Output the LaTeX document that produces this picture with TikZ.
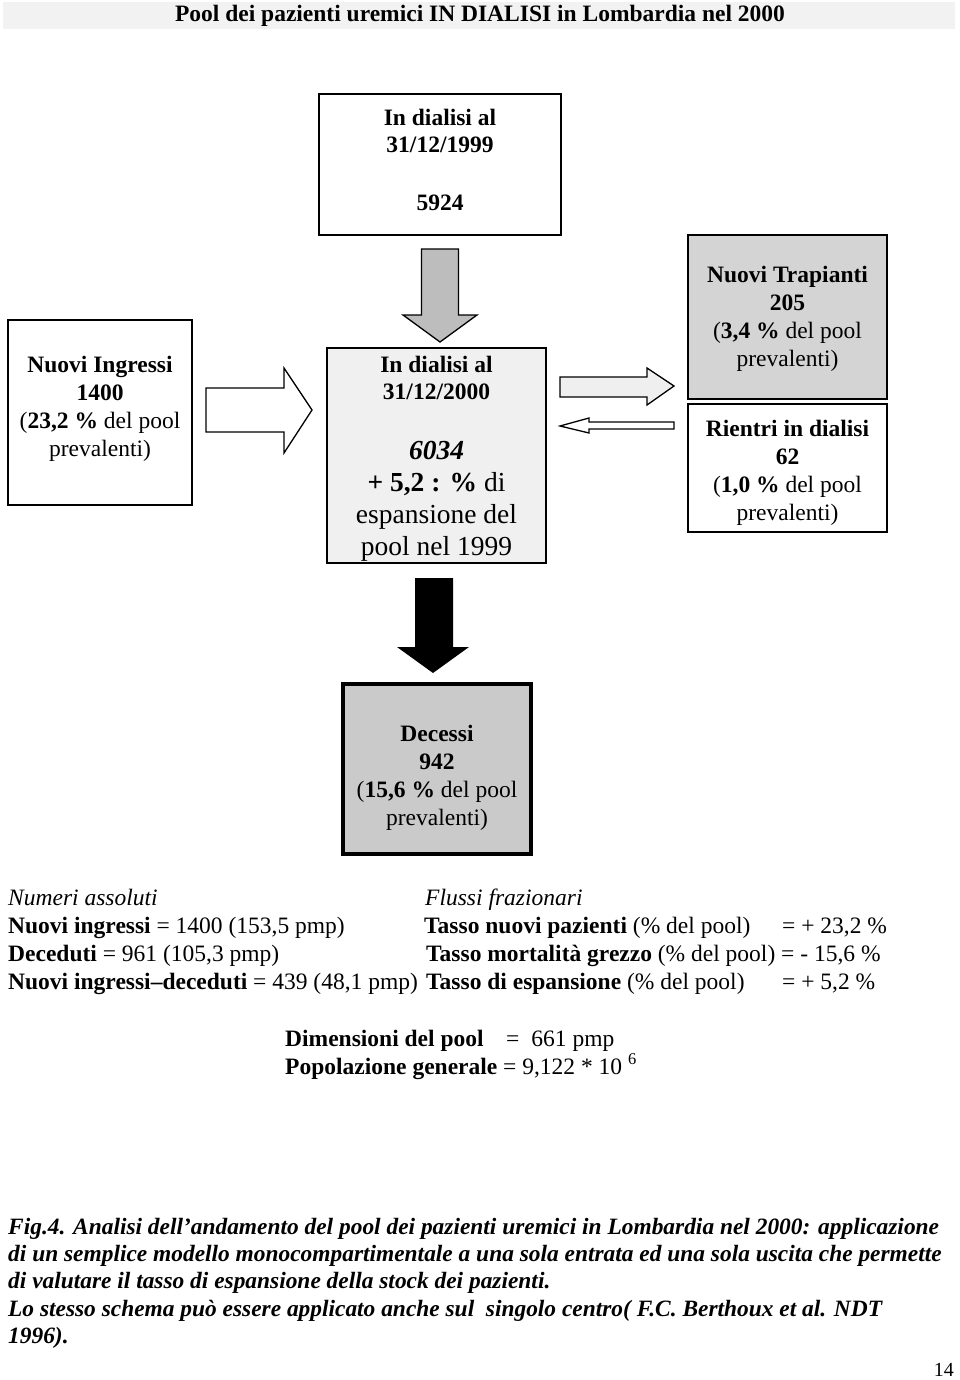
\documentclass[tikz,border=0pt]{standalone}
\usepackage{fontspec}
\setmainfont{Liberation Serif}
\usetikzlibrary{calc}
\definecolor{bandgray}{HTML}{F2F2F2}
\definecolor{poolfill}{HTML}{F0F0F0}
\definecolor{trapfill}{HTML}{D4D4D4}
\definecolor{decfill}{HTML}{CACACA}
\definecolor{arrgray}{HTML}{BDBDBD}
\definecolor{arrlight}{HTML}{EFEFEF}
\begin{document}
\begin{tikzpicture}[x=1pt,y=-1pt,
  box/.style={draw=black, line width=1.8pt, anchor=north west, inner sep=0, outer sep=0},
  txt/.style={font=\fontsize{23.5}{28}\selectfont, align=center, inner sep=0},
  bigtxt/.style={font=\fontsize{27.5}{32}\selectfont, align=center, inner sep=0},
  stat/.style={font=\fontsize{23.5}{28}\selectfont, anchor=base west, inner sep=0},
  blockarrow/.style={draw=black, line width=1.3pt, line join=miter}]
\useasboundingbox (0,0) rectangle (960,1380);
% title
\fill[bandgray] (3,2) rectangle (955,29);
\node[txt, font=\fontsize{23.5}{28}\selectfont\bfseries] (title) at (480,16) {Pool dei pazienti uremici IN DIALISI in Lombardia nel 2000};
% boxes
\node[box, minimum width=242pt, minimum height=141pt] (old) at (319,94) {};
\node[box, minimum width=184pt, minimum height=185pt] (ingr) at (8,320) {};
\node[box, fill=poolfill, minimum width=219pt, minimum height=215pt] (pool) at (327,348) {};
\node[box, fill=trapfill, minimum width=199pt, minimum height=164pt] (trap) at (688,235) {};
\node[box, minimum width=199pt, minimum height=128pt] (rient) at (688,404) {};
\node[box, fill=decfill, line width=3.5pt, minimum width=188pt, minimum height=170pt] (dec) at (343,684) {};
% box texts
\node[txt, font=\fontsize{23.5}{26.5}\selectfont\bfseries] (oldt) at ($(old.north)+(0,37)$) {In dialisi al\\31/12/1999};
\node[txt, font=\fontsize{23.5}{28}\selectfont\bfseries] (oldn) at ($(old.north)+(0,109)$) {5924};
\node[txt] (ingrt) at ($(ingr.center)+(0,-4)$) {\textbf{Nuovi Ingressi}\\\textbf{1400}\\(\textbf{23,2 \%} del pool\\prevalenti)};
\node[txt, font=\fontsize{23.5}{27}\selectfont\bfseries] (poolt) at ($(pool.north)+(0,30)$) {In dialisi al\\31/12/2000};
\node[bigtxt] (pooln) at ($(pool.north)+(0,153)$) {\textbf{\textit{6034}}\\\textbf{+ 5,2 : \%} di\\espansione del\\pool nel 1999};
\node[txt] (trapt) at ($(trap.north)+(0,84)$) {\textbf{Nuovi Trapianti}\\\textbf{205}\\(\textbf{3,4 \%} del pool\\prevalenti)};
\node[txt] (rientt) at ($(rient.north)+(0,69)$) {\textbf{Rientri in dialisi}\\\textbf{62}\\(\textbf{1,0 \%} del pool\\prevalenti)};
\node[txt] (dect) at ($(dec.north)+(0,94)$) {\textbf{Decessi}\\\textbf{942}\\(\textbf{15,6 \%} del pool\\prevalenti)};
% block arrows
\begin{scope}[shift={(old.south)}]
\draw[blockarrow, fill=arrgray] (-18.5,14) -- (18.5,14) -- (18.5,80) -- (37,80) -- (0,107) -- (-37,80) -- (-18.5,80) -- cycle;
\end{scope}
\begin{scope}[shift={(dec.north)}]
\fill[black] (-22,-106) -- (16,-106) -- (16,-37) -- (32,-37) -- (-4,-11) -- (-40,-37) -- (-22,-37) -- cycle;
\end{scope}
\begin{scope}[shift={(ingr.east)}]
\draw[blockarrow, fill=white] (14,-24.5) -- (92,-24.5) -- (92,-44.5) -- (120,-2.5) -- (92,40.5) -- (92,19.5) -- (14,19.5) -- cycle;
\end{scope}
\begin{scope}[shift={(trap.west)}]
\draw[blockarrow, fill=arrlight] (-128,60) -- (-41,60) -- (-41,51) -- (-14,69) -- (-41,88) -- (-41,80) -- (-128,80) -- cycle;
\end{scope}
\begin{scope}[shift={(rient.west)}]
\draw[blockarrow, fill=white] (-14,-46) -- (-99,-46) -- (-99,-50) -- (-128,-42) -- (-99,-35) -- (-99,-39) -- (-14,-39) -- cycle;
\end{scope}
% statistics
\node[stat] (na) at (8,905) {\textit{Numeri assoluti}};
\node[stat] (ff) at (425,905) {\textit{Flussi frazionari}};
\node[stat] (s1) at (8,933) {\textbf{Nuovi ingressi} = 1400 (153,5 pmp)};
\node[stat] (f1) at (424,933) {\makebox[358pt][l]{\textbf{Tasso nuovi pazienti} (\% del pool)}= + 23,2 \%};
\node[stat] (s2) at (8,961) {\textbf{Deceduti} = 961 (105,3 pmp)};
\node[stat] (f2) at (426,961) {\textbf{Tasso mortalità grezzo} (\% del pool) = - 15,6 \%};
\node[stat] (s3) at (8,989) {\textbf{Nuovi ingressi–deceduti} = 439 (48,1 pmp)};
\node[stat] (f3) at (426,989) {\makebox[356pt][l]{\textbf{Tasso di espansione} (\% del pool)}= + 5,2 \%};
\node[stat] (dim) at (285,1046) {\makebox[221pt][l]{\textbf{Dimensioni del pool}}=\hspace{12pt}661 pmp};
\node[stat] (pop) at (285,1074) {\textbf{Popolazione generale} = 9,122 * 10 \textsuperscript{6}};
% caption
\node[anchor=north west, inner sep=0, align=left, font=\fontsize{23.4}{27.2}\selectfont\bfseries\itshape] (cap) at (8,1218) {Fig.4. Analisi dell'andamento del pool dei pazienti uremici in Lombardia nel 2000: applicazione\\di un semplice modello monocompartimentale a una sola entrata ed una sola uscita che permette\\di valutare il tasso di espansione della stock dei pazienti.\\Lo stesso schema può essere applicato anche sul\ \ singolo centro( F.C. Berthoux et al. NDT\\1996).};
\node[anchor=base east, inner sep=0, font=\fontsize{20}{24}\selectfont] (page) at (954,1376) {14};
\end{tikzpicture}
\end{document}
